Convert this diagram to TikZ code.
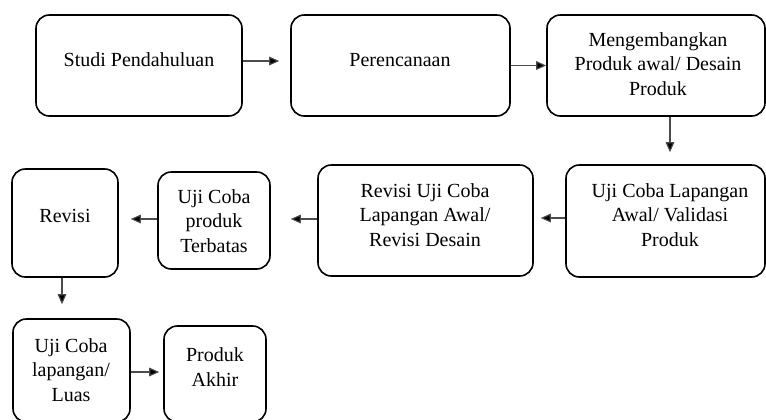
\documentclass[tikz,border=0pt]{standalone}
\usepackage{fontspec}
\setmainfont{Liberation Serif}
\usetikzlibrary{arrows.meta,calc}
\begin{document}
\begin{tikzpicture}[x=0.75pt,y=-0.75pt,
  bx/.style 2 args={draw, line width=1.2pt, rounded corners=10pt, inner sep=0pt,
    minimum width=#1*0.75pt, minimum height=#2*0.75pt},
  txt/.style={align=center, inner sep=0pt, font=\fontsize{15}{18.4}\selectfont},
  arr/.style={draw=black!70, line width=0.8pt, -{Triangle[length=7.5pt,width=6.5pt,fill=black]}}]
\useasboundingbox (0,0) rectangle (766,419);
% boxes
\node[bx={206}{101}] (A) at (139,65.5) {};
\node[bx={219}{101}] (B) at (400.5,65.5) {};
\node[bx={218}{101}] (C) at (656,65.5) {};
\node[bx={199}{112}] (D) at (665.5,221) {};
\node[bx={215}{111}] (E) at (425.5,220.5) {};
\node[bx={112}{97}] (F) at (214,220.5) {};
\node[bx={106}{108}] (G) at (65,223) {};
\node[bx={117}{103}] (H) at (71.5,370.5) {};
\node[bx={102}{96}] (I) at (215,374) {};
% texts
\node[txt] (At) at (139,60) {Studi Pendahuluan};
\node[txt] (Bt) at (400,60) {Perencanaan};
\node[txt] (Ct) at (658,64) {Mengembangkan\\Produk awal/ Desain\\Produk};
\node[txt] (Dt) at (670,215) {Uji Coba Lapangan\\Awal/ Validasi\\Produk};
\node[txt] (Et) at (425,215) {Revisi Uji Coba\\Lapangan Awal/\\Revisi Desain};
\node[txt] (Ft) at (214,221) {Uji Coba\\produk\\Terbatas};
\node[txt] (Gt) at (65,216) {Revisi};
\node[txt] (Ht) at (71,370) {Uji Coba\\lapangan/\\Luas};
\node[txt] (It) at (215,367) {Produk\\Akhir};
% arrows
\draw[arr, shorten >=8.25pt] ($(A.east)+(0,-4.5)$) -- ($(B.west)+(0,-4.5)$);
\draw[arr] (B.east) -- (C.west);
\draw[arr, shorten >=9pt] ($(C.south)+(14,0)$) -- ($(D.north)+(4.5,0)$);
\draw[arr, shorten >=5.25pt] ($(D.west)+(0,-3)$) -- ($(E.east)+(0,-2.5)$);
\draw[arr, shorten >=15pt] ($(E.west)+(0,-1.5)$) -- ($(F.east)+(0,-1.5)$);
\draw[arr, shorten >=9pt] ($(F.west)+(0,-1.5)$) -- ($(G.east)+(0,-4)$);
\draw[arr, shorten >=10.5pt] ($(G.south)+(-3,0)$) -- ($(H.north)+(-9.5,0)$);
\draw[arr, shorten >=3pt] ($(H.east)+(0,1.5)$) -- ($(I.west)+(0,-2)$);
\end{tikzpicture}
\end{document}
